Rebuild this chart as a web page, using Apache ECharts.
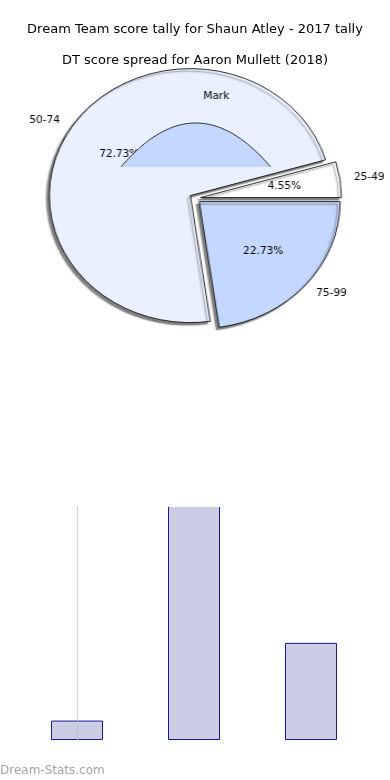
<!DOCTYPE html>
<html><head><meta charset="utf-8">
<script src="https://cdn.jsdelivr.net/npm/echarts@6/dist/echarts.min.js"></script>
<style>
html,body{margin:0;padding:0;overflow:hidden;background:#fff}
#main{position:absolute;left:0;top:0;width:390px;height:780px}
#bars{position:absolute;left:0;top:507px;width:390px;height:273px;overflow:hidden}
#pie{position:absolute;left:0;top:0;width:390px;height:780px;transform-origin:195px 0;transform:scaleX(1.11);pointer-events:none}
</style></head><body>
<div id="main"></div><div id="bars"></div><div id="pie"></div>
<script>
// ---- data ----
const chartTitle = 'Dream Team score tally for Shaun Atley - 2017 tally';
const pieTitle = 'DT score spread for Aaron Mullett (2018)';
const watermark = 'Dream-Stats.com';
const categories = ['25-49', '50-74', '75-99'];
const gameCounts = [1, 16, 5];
const markNames = ['Mark'];
const markShare = [0.5];
const barAxisMax = 12;

// ---- styles ----
const sliceColors = ['#ffffff', '#eaf0fe', '#c4d7ff'];
const MARK_COLOR = '#c4d7ff';
const FONT = 'DejaVu Sans';
const PIE_FONT = "'DejaVu Sans Condensed', 'DejaVu Sans'";
const PIE_C = [195, 198.3], PIE_R = 127;
const MARK_C = [195.7, 167], MARK_RX = 67.4, MARK_RY = 44, MARK_LABEL = [214.2, 96.5];

const total = gameCounts.reduce((a, b) => a + b, 0);
const pct = v => (v / total * 100).toFixed(2) + '%';

const main = echarts.init(document.getElementById('main'), null, {renderer: 'canvas'});
main.setOption({
  animation: false,
  backgroundColor: '#ffffff',
  title: [
    {text: chartTitle, left: 'center', top: 23.5, padding: 0,
     textStyle: {fontFamily: FONT, fontSize: 13, fontWeight: 'normal', color: '#000'}},
    {text: pieTitle, left: 'center', top: 54.5, padding: 0,
     textStyle: {fontFamily: FONT, fontSize: 13, fontWeight: 'normal', color: '#000'}},
    {text: watermark, left: 0, top: 764.5, padding: 0,
     textStyle: {fontFamily: FONT, fontSize: 12, fontWeight: 'normal', color: '#a3a3a3'}}
  ]
});

const bars = echarts.init(document.getElementById('bars'), null, {renderer: 'canvas'});
bars.setOption({
  animation: false,
  backgroundColor: 'transparent',
  grid: {left: 18.5, right: 20.5, top: 0, bottom: 40},
  xAxis: {type: 'category', data: categories, show: false},
  yAxis: {type: 'value', min: 0, max: barAxisMax, show: false},
  series: [{
    type: 'bar', data: gameCounts, barWidth: 52, clip: false, silent: true,
    itemStyle: {color: '#ccccE5', borderColor: '#1a1a96', borderWidth: 1},
    markLine: {
      silent: true, symbol: ['none', 'none'], label: {show: false},
      lineStyle: {color: '#b8b8b8', type: 'dotted', width: 1},
      emphasis: {disabled: true},
      data: [{xAxis: categories[0]}]
    }
  }]
});

const pie = echarts.init(document.getElementById('pie'), null, {renderer: 'canvas'});
pie.setOption({
  animation: false,
  backgroundColor: 'transparent',
  series: [
    {
      type: 'pie', center: PIE_C, radius: PIE_R, startAngle: 0, clockwise: false,
      selectedMode: 'multiple', selectedOffset: 5, avoidLabelOverlap: false, silent: true, z: 2,
      data: categories.map((c, i) => ({name: c, value: gameCounts[i], selected: true,
        itemStyle: {color: sliceColors[i]}})),
      itemStyle: {borderColor: '#000', borderWidth: 0.8, shadowColor: 'rgba(0,0,0,0.5)',
        shadowBlur: 1.5, shadowOffsetX: -2.5, shadowOffsetY: 2.5},
      select: {itemStyle: {borderColor: '#000', borderWidth: 0.8}},
      emphasis: {disabled: true},
      label: {show: true, position: 'outside', formatter: '{b}', fontFamily: PIE_FONT,
        fontSize: 10.5, color: '#000', distanceToLabelLine: 0},
      labelLine: {show: false, length: 12.7, length2: 0}
    },
    {
      type: 'pie', center: PIE_C, radius: PIE_R * 1.153, startAngle: 0, clockwise: false,
      selectedMode: 'multiple', selectedOffset: 5, avoidLabelOverlap: false, silent: true, z: 3,
      data: categories.map((c, i) => ({name: c, value: gameCounts[i], selected: true})),
      itemStyle: {color: 'rgba(0,0,0,0)', borderWidth: 0},
      select: {itemStyle: {color: 'rgba(0,0,0,0)', borderWidth: 0}},
      emphasis: {disabled: true},
      label: {show: true, position: 'inside', formatter: p => pct(p.value), fontFamily: PIE_FONT,
        fontSize: 10.5, color: '#000', textBorderWidth: 0},
      labelLine: {show: false}
    },
    {
      type: 'custom', coordinateSystem: 'none', z: 10, silent: true,
      data: markShare.map(v => [v]),
      renderItem: function (params, api) {
        const share = api.value(0);
        const pts = [];
        const n = 120;
        for (let k = 0; k <= n; k++) {
          const a = 2 * Math.PI * share * k / n;
          const s = Math.sin(a);
          pts.push([MARK_C[0] + MARK_RX * Math.cos(a), MARK_C[1] - MARK_RY * s * s]);
        }
        return {type: 'group', children: [
          {type: 'polygon', shape: {points: pts}, style: {fill: MARK_COLOR}},
          {type: 'polyline', shape: {points: pts}, style: {fill: null, stroke: '#000', lineWidth: 0.8}},
          {type: 'text', x: MARK_LABEL[0], y: MARK_LABEL[1], style: {text: markNames[params.dataIndex],
            align: 'center', verticalAlign: 'middle', fontFamily: PIE_FONT, fontSize: 10.5, fill: '#000'}}
        ]};
      }
    }
  ]
});
</script>
</body></html>
